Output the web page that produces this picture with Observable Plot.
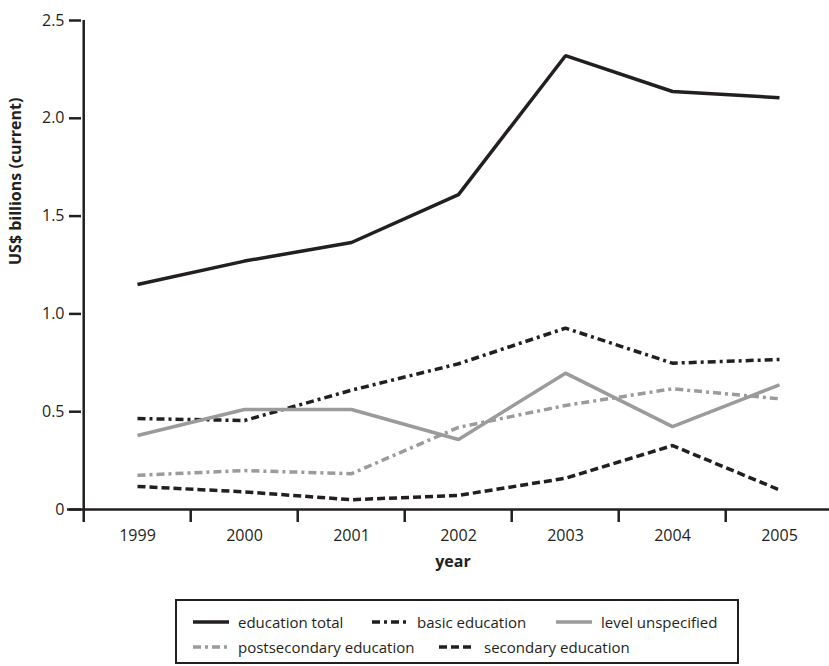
<!DOCTYPE html>
<html>
<head>
<meta charset="utf-8">
<script src="https://cdn.jsdelivr.net/npm/d3@7"></script>
<script src="https://cdn.jsdelivr.net/npm/@observablehq/plot@0.6"></script>
<style>
  html, body { margin: 0; padding: 0; background: #fff; overflow: hidden; }
  body { width: 829px; height: 666px; font-family: "Open Sans", sans-serif; color: #231f20; }
  #legend { position: relative; margin-left: 175px; margin-top: 14px; width: 560px; height: 61px;
            border: 2px solid #231f20; box-sizing: content-box; }
  .item { position: absolute; display: flex; align-items: center; font-size: 15px; line-height: 18px; white-space: nowrap; }
  .item svg { margin-right: 9px; }
</style>
</head>
<body>
<div id="chart"></div>
<div id="legend"></div>
<script>
// ---- data ----
const years = [1999, 2000, 2001, 2002, 2003, 2004, 2005];
const educationTotal   = [1.15, 1.27, 1.365, 1.61, 2.32, 2.137, 2.105];
const basicEducation   = [0.465, 0.455, 0.61, 0.745, 0.927, 0.748, 0.767];
const levelUnspecified = [0.378, 0.511, 0.511, 0.358, 0.697, 0.424, 0.637];
const postsecondary    = [0.175, 0.199, 0.183, 0.42, 0.532, 0.617, 0.566];
const secondary        = [0.118, 0.09, 0.05, 0.072, 0.16, 0.327, 0.10];
const seriesNames = ["education total", "basic education", "level unspecified", "postsecondary education", "secondary education"];
const yTicks = [0, 0.5, 1.0, 1.5, 2.0, 2.5];

// ---- styles ----
const ink = "#231f20", grey = "#9b9b9b";
const styles = {
  "education total":         {stroke: ink,  dash: null},
  "basic education":         {stroke: ink,  dash: "8,4,3,4"},
  "level unspecified":       {stroke: grey, dash: null},
  "postsecondary education": {stroke: grey, dash: "8,4,3,4"},
  "secondary education":     {stroke: ink,  dash: "8,4"}
};
const seriesValues = [educationTotal, basicEducation, levelUnspecified, postsecondary, secondary];

const rows = [];
seriesNames.forEach((name, s) => years.forEach((yr, i) => rows.push({series: name, year: yr, value: seriesValues[s][i]})));

const marginLeft = 81, rangeRight = 834;
const step = (rangeRight - marginLeft) / years.length;

const lineMarks = seriesNames.map(name => Plot.line(rows.filter(d => d.series === name), {
  x: "year", y: "value", stroke: styles[name].stroke, strokeWidth: 3.5,
  strokeDasharray: styles[name].dash, strokeLinejoin: "miter", strokeLinecap: "butt"
}));

const chart = Plot.plot({
  width: 829, height: 585,
  marginLeft, marginRight: 829 - rangeRight, marginTop: 20, marginBottom: 76,
  style: {fontFamily: "Open Sans", fontSize: "16px", color: ink, background: "#fff"},
  x: {type: "point", domain: years, padding: 0.5, label: null},
  y: {domain: [0, 2.5], label: null},
  marks: [
    Plot.axisY({ticks: yTicks, tickFormat: d => d === 0 ? "0" : d.toFixed(1), tickSize: 12, tickPadding: 5, strokeWidth: 2.5, fontSize: 16, label: null}),
    Plot.axisX({ticks: years, tickSize: 13, tickFormat: () => "", dx: -step / 2, strokeWidth: 2.5, label: null}),
    Plot.axisX({ticks: years, tickSize: 0, tickPadding: 20, tickFormat: d => String(d), fontSize: 16, label: null}),
    Plot.ruleX([years[0]], {dx: -step / 2, stroke: ink, strokeWidth: 2.5}),
    Plot.ruleY([0], {stroke: ink, strokeWidth: 2.5, insetLeft: -14}),
    ...lineMarks,
    Plot.text(["US$ billions (current)"], {frameAnchor: "left", rotate: -90, dx: -66, fontWeight: "bold", fontSize: 16, fill: ink}),
    Plot.text(["year"], {frameAnchor: "bottom", dy: 57, dx: -5, fontWeight: "bold", fontSize: 16, fill: ink})
  ]
});
document.getElementById("chart").appendChild(chart);

// ---- legend ----
const legendPos = {
  "education total":         {left: 16,  top: 21},
  "basic education":         {left: 195, top: 21},
  "level unspecified":       {left: 379, top: 21},
  "postsecondary education": {left: 16,  top: 46},
  "secondary education":     {left: 262, top: 46}
};
const legend = document.getElementById("legend");
seriesNames.forEach(name => {
  const st = styles[name];
  const div = document.createElement("div");
  div.className = "item";
  div.style.left = legendPos[name].left + "px";
  div.style.top = (legendPos[name].top - 9) + "px";
  div.innerHTML = `<svg width="36" height="8"><line x1="0" x2="36" y1="4" y2="4" stroke="${st.stroke}" stroke-width="3.5" ${st.dash ? `stroke-dasharray="${st.dash}"` : ""}/></svg><span>${name}</span>`;
  legend.appendChild(div);
});
</script>
</body>
</html>
